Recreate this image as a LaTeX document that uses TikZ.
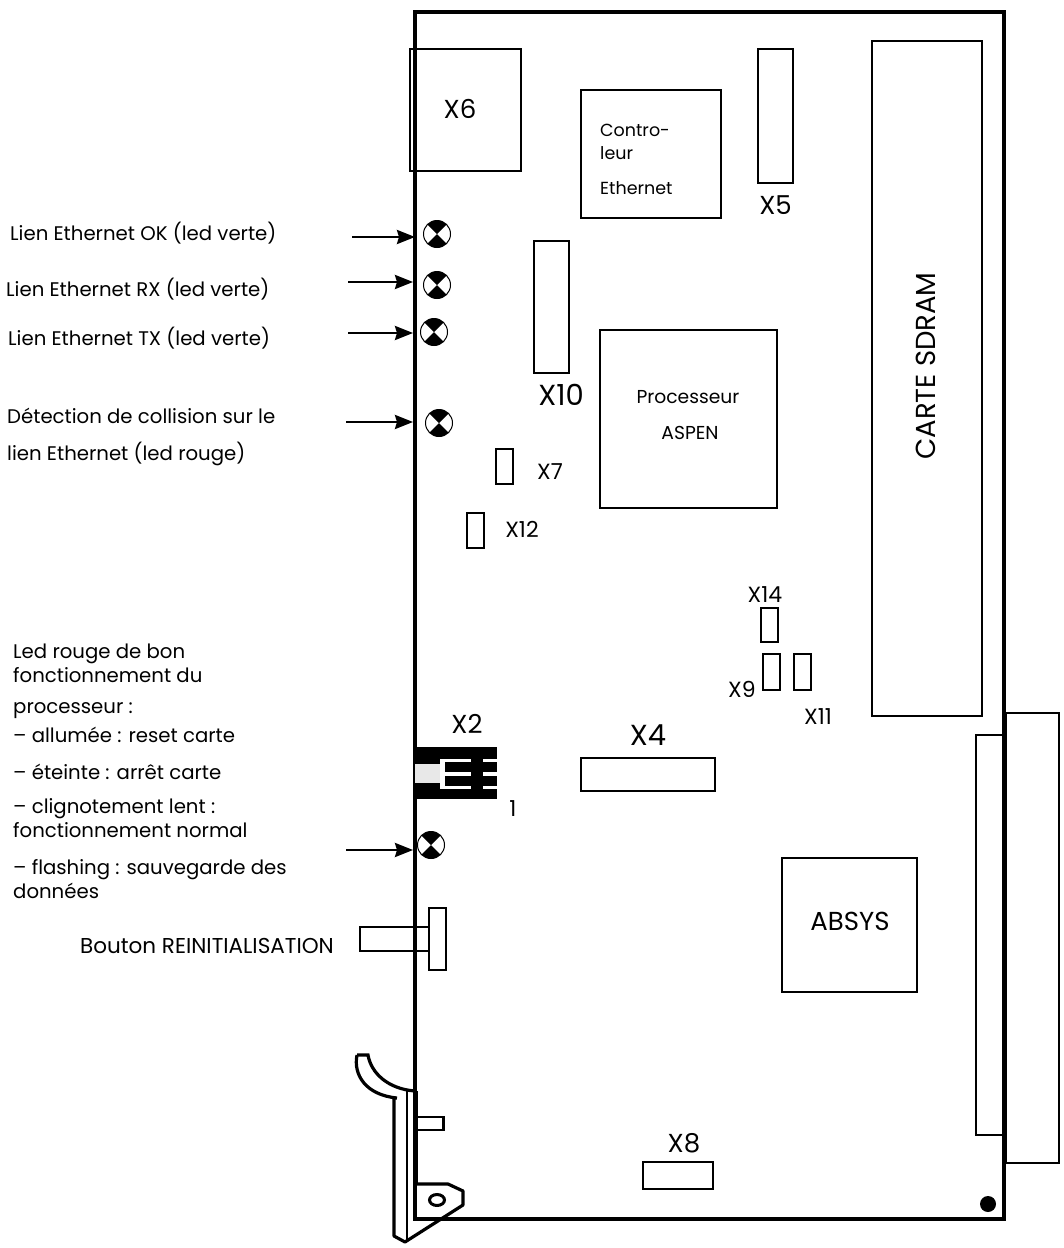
\documentclass[tikz,border=0pt]{standalone}
\usepackage{fontspec}
\setmainfont{Poppins}
\usetikzlibrary{positioning,arrows.meta,shapes.geometric}

\begin{document}
\begin{tikzpicture}[x=1pt,y=-1pt]
    \tikzset{
      box/.style = {draw, line width=2.6pt, inner sep=0pt, align=center},
      big text/.style = {inner sep=0pt, font=\fontsize{26}{26}\selectfont},
      mid text/.style = {inner sep=0pt, font=\fontsize{18.7}{18.7}\selectfont},
      small text/.style = {inner sep=0pt, font=\fontsize{17.5}{17.5}\selectfont},
      pin text/.style = {inner sep=0pt, font=\fontsize{22}{22}\selectfont},
      note/.style = {inner sep=0pt, anchor=base west, font=\fontsize{19.7}{19.7}\selectfont},
      led/.style = {circle, draw, line width=1pt, minimum size=27pt, inner sep=0pt,
        path picture={
          \fill (path picture bounding box.center) -- ++(-20pt,20pt) -- ++(40pt,0pt) -- cycle;
          \fill (path picture bounding box.center) -- ++(-20pt,-20pt) -- ++(40pt,0pt) -- cycle;
        }},
      pointer/.style = {-{Stealth[length=18pt,width=14pt,inset=2pt]}, line width=2.5pt}
    }
    \useasboundingbox (0,0) rectangle (1064,1248);
    \fill[white] (0,0) rectangle (1064,1248);

    %board outline
    \draw[line width=3.6pt, line join=miter] (415,1219) -- (415,12) -- (1004,12) -- (1004,1219) -- cycle;
    \draw[line width=5pt] (1004,713) -- (1004,1163);
    \draw[line width=5pt] (415.5,1091) -- (415.5,1184);

    %large parts
    \node[box, minimum width=111pt, minimum height=122pt] (x6) at (465.5,110) {};
    \node[big text] (x6 text) at (460,109) {X6};
    \node[box, minimum width=140pt, minimum height=128pt] (ctrl) at (651,154) {};
    \node[small text, anchor=base west] (ctrl a) at (600,136) {Contro-};
    \node[small text, anchor=base west] (ctrl b) at (600,159) {leur};
    \node[small text, anchor=base west] (ctrl c) at (600,194) {Ethernet};
    \node[box, minimum width=35pt, minimum height=134pt] (x5) at (775.5,116) {};
    \node[big text] (x5 text) [below = 11pt of x5] {X5};
    \node[box, minimum width=110pt, minimum height=675pt] (sdram) at (927,378.5) {};
    \node[big text, font=\fontsize{27.5}{27.5}\selectfont, rotate=90] (sdram text) at (926,366) {CARTE SDRAM};
    \node[box, minimum width=35pt, minimum height=132pt] (x10) at (551.5,307) {};
    \node[big text, font=\fontsize{29}{29}\selectfont] (x10 text) at (561,395) {X10};
    \node[box, minimum width=177pt, minimum height=178pt] (cpu) at (688.5,419) {};
    \node[mid text] (cpu a) at (688,397) {Processeur};
    \node[mid text] (cpu b) at (690,433) {ASPEN};
    \node[box, minimum width=134pt, minimum height=33pt] (x4) at (648,774.5) {};
    \node[big text, font=\fontsize{29}{29}\selectfont] (x4 text) [above = 11pt of x4] {X4};
    \node[box, minimum width=135pt, minimum height=134pt] (absys) at (849.5,925) {};
    \node[big text] (absys text) at (850,921) {ABSYS};
    \node[box, minimum width=70pt, minimum height=27pt] (x8) at (678,1175.5) {};
    \node[big text] (x8 text) [above = 7pt of x8, xshift=6pt] {X8};

    %small connectors
    \node[box, minimum width=17pt, minimum height=35pt] (x7) at (504.5,466.5) {};
    \node[pin text] (x7 text) at (550,472) {X7};
    \node[box, minimum width=17pt, minimum height=35pt] (x12) at (475.5,530.5) {};
    \node[pin text] (x12 text) at (522,529) {X12};
    \node[box, minimum width=17pt, minimum height=34pt] (x14) at (769.5,625) {};
    \node[pin text] (x14 text) at (765,595) {X14};
    \node[box, minimum width=17pt, minimum height=36pt] (x9) at (771.5,672) {};
    \node[pin text] (x9 text) at (742,689) {X9};
    \node[box, minimum width=17pt, minimum height=36pt] (x11) at (802.5,672) {};
    \node[pin text] (x11 text) at (818,717) {X11};

    %back connector
    \node[box, minimum width=55pt, minimum height=450pt] (back) at (1031.5,938) {};
    \node[box, minimum width=28pt, minimum height=400pt] (backin) at (990,935) {};

    %X2 jumper block
    \fill (413,747) rectangle (497,799);
    \fill[white] (440,760) rectangle (445,788);
    \fill[white] (440,759) rectangle (471,762);
    \fill[white] (440,772) rectangle (471,776);
    \fill[white] (440,786) rectangle (471,789);
    \fill[white] (483,759) rectangle (497,762);
    \fill[white] (483,772) rectangle (497,776);
    \fill[white] (483,786) rectangle (497,789);
    \fill[black!9] (415,764) rectangle (440,783);
    \node[big text] (x2 text) at (467,724) {X2};
    \node[pin text] (x2 pin) at (513,809) {1};

    %leds and arrows
    \node[led] (led ok) at (437,234) {};
    \node[led] (led rx) at (437,285) {};
    \node[led] (led tx) at (434,332) {};
    \node[led] (led col) at (439,423) {};
    \node[led] (led run) at (431,845) {};
    \coordinate (ok from) at (352,237);
    \coordinate (ok to) at (415,237);
    \coordinate (rx from) at (348,282);
    \coordinate (rx to) at (413,282);
    \coordinate (tx from) at (348,333);
    \coordinate (tx to) at (413,333);
    \coordinate (col from) at (346,422);
    \coordinate (col to) at (413,422);
    \coordinate (run from) at (346,850);
    \coordinate (run to) at (413,850);
    \draw[pointer] (ok from) -- (ok to);
    \draw[pointer] (rx from) -- (rx to);
    \draw[pointer] (tx from) -- (tx to);
    \draw[pointer] (col from) -- (col to);
    \draw[pointer] (run from) -- (run to);

    %texts on the left
    \node[note] (t ok) at (10,240) {Lien Ethernet OK (led verte)};
    \node[note] (t rx) at (6,296) {Lien Ethernet RX (led verte)};
    \node[note] (t tx) at (8,345) {Lien Ethernet TX (led verte)};
    \node[note] (t col a) at (7,423) {Détection de collision sur le};
    \node[note] (t col b) at (7,460) {lien Ethernet (led rouge)};
    \node[note] (t run a) at (13,658) {Led rouge de bon};
    \node[note] (t run b) at (13,682) {fonctionnement du};
    \node[note] (t run c) at (13,713) {processeur :};
    \node[note] (t run d) at (13,742) {– allumée : reset carte};
    \node[note] (t run e) at (13,779) {– éteinte : arrêt carte};
    \node[note] (t run f) at (13,813) {– clignotement lent :};
    \node[note] (t run g) at (13,837) {fonctionnement normal};
    \node[note] (t run h) at (13,874) {– flashing : sauvegarde des};
    \node[note] (t run i) at (13,898) {données};
    \node[note, font=\fontsize{21.5}{21.5}\selectfont] (t reset) at (80,953) {Bouton REINITIALISATION};

    %reset button
    \node[box, line width=2.2pt, minimum width=69pt, minimum height=24pt] (stem) at (394.5,939) {};
    \node[box, line width=2.2pt, fill=white, minimum width=17pt, minimum height=62pt] (head) at (437.5,939) {};

    %lever
    \draw[line width=3.2pt] (357,1055) -- (368,1055) .. controls (371,1073) and (388,1089) .. (415,1091);
    \draw[line width=3.2pt, line join=round] (357,1055) .. controls (353,1075) and (366,1095) .. (397,1098)
       (394,1098) -- (394,1236) -- (405,1242) -- (463,1205) -- (463,1191) -- (448,1184) -- (416,1184);
    \draw[line width=2pt] (406.5,1091) -- (406.5,1242);
    \node[box, line width=2.8pt, minimum width=27pt, minimum height=13pt] (tab) at (430,1123.5) {};
    \node[draw, ellipse, line width=3pt, minimum width=15pt, minimum height=11pt, inner sep=0pt] (hole) at (437,1200) {};
    \fill (988,1204) circle (8pt);
\end{tikzpicture}
\end{document}
